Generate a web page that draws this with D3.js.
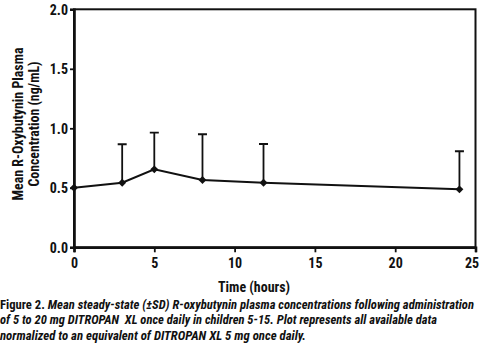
<!DOCTYPE html>
<html><head><meta charset="utf-8">
<script src="https://cdn.jsdelivr.net/npm/d3@7"></script>
<style>
body{margin:0;background:#fff;}
svg text{font-family:"Liberation Sans Narrow","Roboto Condensed",Roboto,"Liberation Sans",Arial,sans-serif;font-weight:bold;fill:#111;}
</style></head><body>
<svg id="c" width="480" height="353"></svg>
<script>
const times = [0, 3, 5, 8, 11.8, 24];
const means = [0.50, 0.543, 0.655, 0.566, 0.543, 0.487];
const upperSD = [null, 0.866, 0.963, 0.95, 0.868, 0.807];
const xTicks = [0, 5, 10, 15, 20, 25];
const yTicks = [0.0, 0.5, 1.0, 1.5, 2.0];
const captionLines = [
  ["Figure 2. ", "Mean steady-state (\u00b1SD) R-oxybutynin plasma concentrations following administration"],
  ["", "of 5 to 20 mg DITROPAN  XL once daily in children 5-15. Plot represents all available data"],
  ["", "normalized to an equivalent of DITROPAN XL 5 mg once daily."]
];

const svg = d3.select("#c");
const L = 74, R = 475.5, T = 9.3, B = 247.3;
const x = d3.scaleLinear().domain([0, 25]).range([L, R]);
const y = d3.scaleLinear().domain([0, 2]).range([B, T]);

// frame
svg.append("rect").attr("x", L).attr("y", T).attr("width", R - L).attr("height", B - T)
  .attr("fill", "none").attr("stroke", "#111").attr("stroke-width", 2);

const xa = svg.append("g").attr("transform", `translate(0,${B})`)
  .call(d3.axisBottom(x).tickValues(xTicks).tickSize(5).tickFormat(d3.format("d")));
const ya = svg.append("g").attr("transform", `translate(${L},0)`)
  .call(d3.axisLeft(y).tickValues(yTicks).tickSize(4).tickFormat(d3.format(".1f")));
[xa, ya].forEach(a => {
  a.select(".domain").attr("stroke", "#111").attr("stroke-width", 2.6);
  a.selectAll(".tick line").attr("stroke", "#111").attr("stroke-width", 1.8);
  a.selectAll("text").attr("font-size", 14).style("fill", "#111");
});
xa.selectAll("text").attr("dy", "0.9em").attr("dx", d => d === 25 ? -4 : 0);
ya.selectAll("text").attr("dy", "0.36em").attr("x", -6);

// error bars
const eb = times.map((t, i) => ({t, m: means[i], u: upperSD[i]})).filter(d => d.u != null);
svg.append("g").selectAll("path").data(eb).join("path")
  .attr("d", d => `M${x(d.t)},${y(d.m)}V${y(d.u)}M${x(d.t)-4.5},${y(d.u)}H${x(d.t)+4.5}`)
  .attr("stroke", "#111").attr("stroke-width", 1.8).attr("fill", "none");

// line
svg.append("path").datum(times.map((t, i) => [t, means[i]]))
  .attr("d", d3.line().x(d => x(d[0])).y(d => y(d[1])))
  .attr("fill", "none").attr("stroke", "#111").attr("stroke-width", 2);

// markers
svg.append("g").selectAll("path").data(times.map((t, i) => [t, means[i]])).join("path")
  .attr("transform", d => `translate(${x(d[0])},${y(d[1])})`)
  .attr("d", d3.symbol(d3.symbolDiamond2, 40)())
  .attr("fill", "#111");

// axis titles
svg.append("text").attr("x", 254).attr("y", 292).attr("text-anchor", "middle")
  .attr("font-size", 15).attr("textLength", 72).attr("lengthAdjust", "spacingAndGlyphs")
  .text("Time (hours)");
const yt = svg.append("text").attr("transform", "translate(0,124) rotate(-90)")
  .attr("text-anchor", "middle").attr("font-size", 14.5);
yt.append("tspan").attr("x", 0).attr("y", 23).attr("textLength", 153).attr("lengthAdjust", "spacingAndGlyphs")
  .text("Mean R-Oxybutynin Plasma");
yt.append("tspan").attr("x", 0).attr("y", 39).attr("textLength", 125).attr("lengthAdjust", "spacingAndGlyphs")
  .text("Concentration (ng/mL)");

// caption
const capY = [308.5, 324, 340];
const capW = [474, 437, 306];
captionLines.forEach((ln, i) => {
  const t = svg.append("text").attr("x", 0).attr("y", capY[i]).attr("font-size", 12.4)
    .style("white-space", "pre")
    .attr("textLength", capW[i]).attr("lengthAdjust", "spacingAndGlyphs");
  if (ln[0]) t.append("tspan").text(ln[0]);
  t.append("tspan").attr("font-style", "italic").text(ln[1]);
});
</script>
</body></html>
